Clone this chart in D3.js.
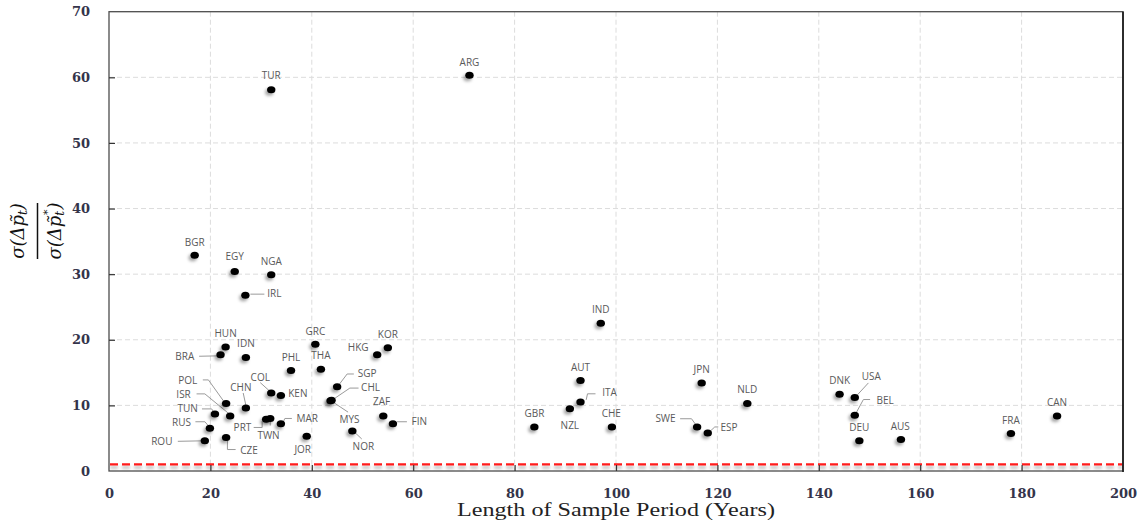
<!DOCTYPE html>
<html>
<head>
<meta charset="utf-8">
<script src="https://d3js.org/d3.v7.min.js"></script>
<style>
  html, body { margin: 0; padding: 0; background: #ffffff; }
  svg { display: block; }
</style>
</head>
<body>
<svg id="chart" width="1146" height="524"></svg>
<script>
// ---------------- DATA ----------------
const countries = ["TUR","ARG","BGR","EGY","NGA","IRL","IND","GRC","KOR","HKG","HUN","IDN","BRA","PHL","THA",
  "SGP","CHL","MYS","COL","KEN","CHN","POL","ISR","TUN","RUS","ROU","CZE","PRT","TWN","MAR","JOR",
  "ZAF","FIN","NOR","GBR","NZL","ITA","AUT","CHE","JPN","NLD","SWE","ESP","DNK","USA","BEL","DEU","AUS","FRA","CAN"];
const sampleYears = [32.0, 71.1, 16.9, 24.8, 32.0, 26.9, 97.0, 40.7, 55.0, 52.9, 23.0, 27.0, 22.0, 35.9, 41.8,
  45.0, 43.7, 43.9, 32.0, 33.9, 27.0, 23.1, 23.9, 20.9, 19.9, 18.9, 23.1, 31.0, 31.8, 33.9, 39.0,
  54.1, 56.0, 48.0, 83.9, 90.9, 93.0, 93.0, 99.2, 116.9, 125.9, 116.0, 118.1, 144.1, 147.1, 147.1, 148.0, 156.2, 177.9, 187.0];
const volatilityRatio = [58.1, 60.3, 32.9, 30.4, 29.9, 26.8, 22.5, 19.3, 18.8, 17.7, 18.9, 17.3, 17.7, 15.3, 15.5,
  12.85, 10.7, 10.8, 11.9, 11.5, 9.6, 10.3, 8.4, 8.7, 6.5, 4.6, 5.1, 7.9, 8.0, 7.2, 5.3,
  8.4, 7.2, 6.1, 6.7, 9.5, 10.5, 13.8, 6.7, 13.4, 10.3, 6.7, 5.8, 11.7, 11.2, 8.5, 4.6, 4.8, 5.7, 8.4];
const xTickValues = [0, 20, 40, 60, 80, 100, 120, 140, 160, 180, 200];
const yTickValues = [0, 10, 20, 30, 40, 50, 60, 70];
const benchmarkRatio = 1;
const xTitle = "Length of Sample Period (Years)";

// ---------------- LABEL LAYOUT (pixel offsets, not data) ----------------
const labelLayout = {
  TUR:{dx:0,dy:-15}, ARG:{dx:0,dy:-13.6}, BGR:{dx:0,dy:-13.6}, EGY:{dx:0,dy:-15.7}, NGA:{dx:0,dy:-13.7},
  IRL:{dx:29,dy:-1.7, leader:[[5,-1],[19,-1]]},
  IND:{dx:0,dy:-14.3}, GRC:{dx:0,dy:-13.6}, KOR:{dx:0,dy:-13.7}, HKG:{dx:-19,dy:-7.7},
  HUN:{dx:0,dy:-14}, IDN:{dx:0,dy:-14},
  BRA:{dx:-35.7,dy:1, leader:[[-21.4,1.4],[-3,1]]},
  PHL:{dx:0,dy:-14}, THA:{dx:0,dy:-14},
  SGP:{dx:30,dy:-13.4, leader:[[16.7,-12.7],[10,-12.7],[1.4,-1.4]]},
  CHL:{dx:40,dy:-13.4, leader:[[28,-12.7],[19.3,-12.7],[2.6,-1.4]]},
  MYS:{dx:18,dy:18.5, leader:[[1.5,2],[16.5,12]]},
  COL:{dx:-11,dy:-16.3, leader:[[-11,-10.3],[-1,-1.3]]},
  KEN:{dx:17,dy:-2.6},
  CHN:{dx:-5,dy:-21, leader:[[-2.7,-15],[0,-2.7]]},
  POL:{dx:-38.3,dy:-23.5, leader:[[-23.3,-23.5],[-17.7,-23.5],[-2,-1.6]]},
  ISR:{dx:-46.6,dy:-22, leader:[[-33.6,-22],[-25.3,-22],[-1,-2]]},
  TUN:{dx:-27.3,dy:-6, leader:[[-13,-5],[-3.3,-5],[-0.7,-1]]},
  RUS:{dx:-28.3,dy:-6.6, leader:[[-14.5,-6.6],[-5,-6.6],[-0.7,-1.6]]},
  ROU:{dx:-43,dy:0.5, leader:[[-27,0.5],[-2,0]]},
  CZE:{dx:23,dy:12.7, leader:[[1.3,2],[1.3,12],[9.5,12]]},
  PRT:{dx:-23.7,dy:8, leader:[[-12.5,8.3],[-4,8.3],[-4,2]]},
  TWN:{dx:-1.7,dy:16, leader:[[0,2],[0,7]]},
  MAR:{dx:26.3,dy:-5.7, leader:[[2.3,-1.7],[4,-5.3],[11,-5.3]]},
  JOR:{dx:-4,dy:13},
  ZAF:{dx:-1.6,dy:-14.4},
  FIN:{dx:26.3,dy:-2.4, leader:[[4,-2],[14,-2]]},
  NOR:{dx:11,dy:15, leader:[[2.7,1.7],[9.4,8]]},
  GBR:{dx:0,dy:-14}, NZL:{dx:0,dy:16},
  ITA:{dx:29,dy:-10, leader:[[5.7,-2.3],[7,-8.3],[15,-8.3]]},
  AUT:{dx:0,dy:-13.6}, CHE:{dx:-0.7,dy:-14}, JPN:{dx:0,dy:-14.3}, NLD:{dx:0,dy:-14},
  SWE:{dx:-31.6,dy:-9, leader:[[-17,-8.3],[-5.6,-8.3],[-0.6,-1.3]]},
  ESP:{dx:21.3,dy:-6, leader:[[2.7,-2],[7,-6],[10.5,-6]]},
  DNK:{dx:0,dy:-14.7},
  USA:{dx:16.6,dy:-21.6, leader:[[2,-2],[13.6,-14.6]]},
  BEL:{dx:30.3,dy:-15.7, leader:[[1.3,-2.3],[8.6,-15.7],[15.3,-15.7]]},
  DEU:{dx:0,dy:-13.4}, AUS:{dx:-0.7,dy:-13.6}, FRA:{dx:0,dy:-13.7}, CAN:{dx:0,dy:-13.7}
};

// ---------------- CHART ----------------
const svg = d3.select("#chart");
const pLeft = 109, pRight = 1123, pTop = 11.7, pBottom = 471;

const x = d3.scaleLinear().domain([0, 200]).range([pLeft, pRight]);
const y = d3.scaleLinear().domain([0, 70]).range([pBottom, pTop]);

const defs = svg.append("defs");
const ptShadow = defs.append("filter").attr("id", "ptShadow")
  .attr("x", "-100%").attr("y", "-100%").attr("width", "300%").attr("height", "300%");
ptShadow.append("feDropShadow").attr("dx", -2).attr("dy", 2.5).attr("stdDeviation", 1.6)
  .attr("flood-color", "#000").attr("flood-opacity", 0.35);
const lineShadow = defs.append("filter").attr("id", "lineShadow")
  .attr("filterUnits", "userSpaceOnUse")
  .attr("x", pLeft - 5).attr("y", 455).attr("width", pRight - pLeft + 10).attr("height", 25);
lineShadow.append("feDropShadow").attr("dx", 0).attr("dy", 3).attr("stdDeviation", 1.6)
  .attr("flood-color", "#000").attr("flood-opacity", 0.3);

// grid
const grid = svg.append("g");
grid.selectAll("line.vg").data(xTickValues.filter(v => v > 0 && v < 200)).join("line")
  .attr("class", "vg")
  .attr("x1", d => x(d)).attr("x2", d => x(d)).attr("y1", pTop).attr("y2", pBottom)
  .attr("stroke", "#dcdcdc").attr("stroke-width", 1).attr("stroke-dasharray", "5,3");
grid.selectAll("line.hg").data(yTickValues.filter(v => v > 0 && v < 70)).join("line")
  .attr("class", "hg")
  .attr("x1", pLeft).attr("x2", pRight).attr("y1", d => y(d)).attr("y2", d => y(d))
  .attr("stroke", "#dcdcdc").attr("stroke-width", 1).attr("stroke-dasharray", "5,3");

// benchmark line
svg.append("line")
  .attr("x1", x(0) + 1).attr("x2", x(200) - 1)
  .attr("y1", y(benchmarkRatio)).attr("y2", y(benchmarkRatio))
  .attr("stroke", "#ff1a1a").attr("stroke-width", 2.2).attr("stroke-dasharray", "8,4")
  .attr("filter", "url(#lineShadow)");

// frame
svg.append("rect").attr("x", pLeft).attr("y", pTop).attr("width", pRight - pLeft).attr("height", pBottom - pTop)
  .attr("fill", "none").attr("stroke", "#4d4d4d").attr("stroke-width", 1.3);
svg.append("line").attr("x1", pRight).attr("x2", pRight).attr("y1", pTop).attr("y2", pBottom + 1)
  .attr("stroke", "#222").attr("stroke-width", 1.8);

// axes via d3
const xAxis = d3.axisBottom(x).tickValues(xTickValues).tickSize(-6).tickPadding(18);
const yAxis = d3.axisLeft(y).tickValues(yTickValues).tickSize(-6).tickPadding(19);
const gx = svg.append("g").attr("transform", `translate(0,${pBottom})`).call(xAxis);
const gy = svg.append("g").attr("transform", `translate(${pLeft},0)`).call(yAxis);
[gx, gy].forEach(g => {
  g.select(".domain").remove();
  g.selectAll(".tick line").attr("stroke", "#333").attr("stroke-width", 1.2);
  g.selectAll(".tick text").attr("font-family", "'DejaVu Serif', serif").attr("font-size", 13)
    .attr("font-weight", "bold").attr("fill", "#34344a");
});
gx.selectAll(".tick line").filter(d => d === 0 || d === 200).remove();
gy.selectAll(".tick line").filter(d => d === 0 || d === 70).remove();

// x title
svg.append("text").attr("x", 616).attr("y", 516).attr("text-anchor", "middle")
  .attr("font-family", "'Liberation Serif', serif").attr("font-size", 18.5).attr("fill", "#222")
  .attr("textLength", 318).attr("lengthAdjust", "spacingAndGlyphs")
  .text(xTitle);

// y title (fraction)
const yt = svg.append("g").attr("font-family", "'DejaVu Serif', serif").attr("font-style", "italic").attr("fill", "#111");
function fracPart(cx, star) {
  const t = yt.append("text").attr("transform", `translate(${cx},231) rotate(-90)`)
    .attr("text-anchor", "middle").attr("dominant-baseline", "middle").attr("font-size", 18);
  t.append("tspan").text("σ(Δp\u0303");
  t.append("tspan").attr("font-size", 12).attr("dy", 4).text("t");
  if (star) {
    t.append("tspan").attr("font-size", 11).attr("dx", -4).attr("dy", -12).text("*");
    t.append("tspan").attr("dy", 8).text(")");
  } else {
    t.append("tspan").attr("dy", -4).text(")");
  }
}
fracPart(19, false);
fracPart(56, true);
svg.append("line").attr("x1", 37.5).attr("x2", 37.5).attr("y1", 203).attr("y2", 259)
  .attr("stroke", "#111").attr("stroke-width", 1.5);

// data rows
const rows = countries.map((c, i) => ({ code: c, years: sampleYears[i], ratio: volatilityRatio[i] }));

// leaders
const leaders = svg.append("g").attr("fill", "none").attr("stroke", "#9a9a9a").attr("stroke-width", 1);
rows.forEach(r => {
  const L = labelLayout[r.code];
  if (L && L.leader) {
    const px = x(r.years), py = y(r.ratio);
    leaders.append("path").attr("d", d3.line()(L.leader.map(p => [px + p[0], py + p[1]])));
  }
});

// points
svg.append("g").selectAll("ellipse").data(rows).join("ellipse")
  .attr("cx", d => x(d.years)).attr("cy", d => y(d.ratio))
  .attr("rx", 4.2).attr("ry", 3.5).attr("fill", "#000")
  .attr("filter", "url(#ptShadow)");

// labels
svg.append("g").selectAll("text").data(rows).join("text")
  .attr("x", d => x(d.years) + (labelLayout[d.code] ? labelLayout[d.code].dx : 0))
  .attr("y", d => y(d.ratio) + (labelLayout[d.code] ? labelLayout[d.code].dy : -14))
  .attr("text-anchor", "middle").attr("dominant-baseline", "central")
  .attr("font-family", "'Open Sans', sans-serif").attr("font-size", 10)
  .attr("fill", "#5a5a5a")
  .text(d => d.code);
</script>
</body>
</html>
